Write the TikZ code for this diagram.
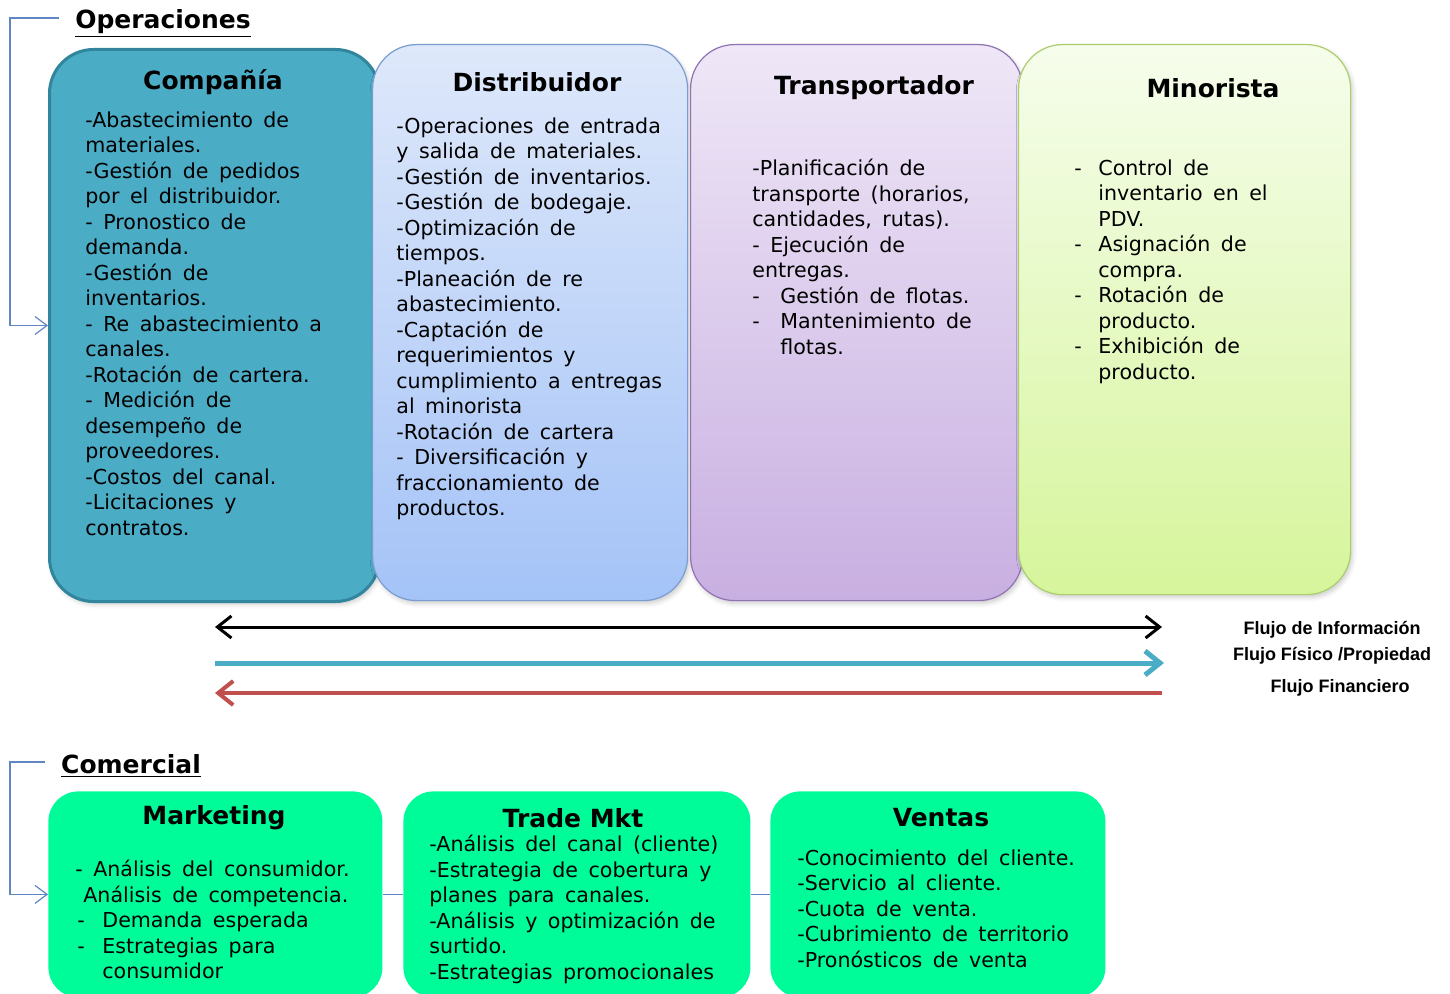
\documentclass[tikz,border=0pt]{standalone}
\usepackage{fontspec}
\setmainfont{DejaVu Sans}
\newfontfamily\bodyfont[WordSpace=1.6]{DejaVu Sans}
\newfontfamily\tahoma{Liberation Sans}
\usepackage{tikz}
\usetikzlibrary{
  positioning,
  arrows.meta,
  shadows.blur,
  calc
}

\definecolor{compfill}{RGB}{75,172,198}
\definecolor{compline}{RGB}{49,133,156}
\definecolor{disttop}{RGB}{222,232,250}
\definecolor{distbot}{RGB}{164,195,247}
\definecolor{distline}{RGB}{122,156,208}
\definecolor{transtop}{RGB}{239,231,247}
\definecolor{transbot}{RGB}{200,175,225}
\definecolor{transline}{RGB}{143,115,178}
\definecolor{minotop}{RGB}{246,253,236}
\definecolor{minobot}{RGB}{214,245,155}
\definecolor{minoline}{RGB}{169,206,107}
\definecolor{comfill}{RGB}{0,252,152}
\definecolor{linkblue}{RGB}{96,134,196}
\definecolor{flowblue}{RGB}{75,172,198}
\definecolor{flowred}{RGB}{192,80,77}

\newcommand{\guion}[1]{\makebox[#1][l]{-}}

\begin{document}
\begin{tikzpicture}[
  x=0.5pt, y=-0.5pt,
  opbox/.style={
    rounded corners=22pt,
    inner sep=0pt,
    minimum height=278pt,
    blur shadow={shadow xshift=1pt, shadow yshift=-1.5pt, shadow opacity=20, shadow blur steps=4}
  },
  combox/.style={
    fill=comfill,
    rounded corners=15pt,
    inner sep=0pt,
    minimum height=103pt,
    anchor=north west
  },
  head/.style={font=\bfseries\fontsize{12.5}{15}\selectfont, inner sep=0pt},
  body/.style={font=\bodyfont\fontsize{10.3}{12.75}\selectfont, align=left, inner sep=0pt, anchor=north west},
  section/.style={font=\bfseries\fontsize{12.5}{14}\selectfont, inner sep=0pt},
  flowlabel/.style={font=\tahoma\bfseries\fontsize{9}{10}\selectfont, inner sep=0pt},
  bracket/.style={draw=linkblue, line width=0.6pt, -{Straight Barb[length=6pt, width=9pt]}},
  link/.style={draw=linkblue, line width=0.5pt}
]

\useasboundingbox (0,0) rectangle (1450,994);

% ==================== OPERACIONES ====================
\node[section] (ops) at (163,24) {\underline{Operaciones}};

\node[opbox, fill=compfill, draw=compline, line width=1.5pt, minimum width=165pt, minimum height=276pt, anchor=north west] (comp) at (48,48) {};
\node[opbox, top color=disttop, bottom color=distbot, draw=distline, line width=0.6pt, minimum width=157.5pt, anchor=north west] (dist) at (372,44) {};
\node[opbox, top color=transtop, bottom color=transbot, draw=transline, line width=0.6pt, minimum width=166pt, anchor=north west] (trans) at (690,44) {};
\node[opbox, top color=minotop, bottom color=minobot, draw=minoline, line width=0.6pt, minimum width=166pt, minimum height=275pt, anchor=north west] (mino) at (1018,44) {};

% titles
\node[head] (comptitle) at (213,82) {Compañía};
\node[head] (disttitle) at (537,82) {Distribuidor};
\node[head] (transtitle) at (874,88) {Transportador};
\node[head] (minotitle) at (1213,88) {Minorista};

% texts
\node[body] (comptext) at (85,111) {
  -Abastecimiento de\\
  materiales.\\
  -Gestión de pedidos\\
  por el distribuidor.\\
  - Pronostico de\\
  demanda.\\
  -Gestión de\\
  inventarios.\\
  - Re abastecimiento a\\
  canales.\\
  -Rotación de cartera.\\
  - Medición de\\
  desempeño de\\
  proveedores.\\
  -Costos del canal.\\
  -Licitaciones y\\
  contratos.
};

\node[body] (disttext) at (396,117) {
  -Operaciones de entrada\\
  y salida de materiales.\\
  -Gestión de inventarios.\\
  -Gestión de bodegaje.\\
  -Optimización de\\
  tiempos.\\
  -Planeación de re\\
  abastecimiento.\\
  -Captación de\\
  requerimientos y\\
  cumplimiento a entregas\\
  al minorista\\
  -Rotación de cartera\\
  - Diversificación y\\
  fraccionamiento de\\
  productos.
};

\node[body] (transtext) at (752,159) {
  -Planificación de\\
  transporte (horarios,\\
  cantidades, rutas).\\
  - Ejecución de\\
  entregas.\\
  \guion{14pt}Gestión de flotas.\\
  \guion{14pt}Mantenimiento de\\
  \hspace*{14pt}flotas.
};

\node[body] (minotext) at (1074,159) {
  \guion{12pt}Control de\\
  \hspace*{12pt}inventario en el\\
  \hspace*{12pt}PDV.\\
  \guion{12pt}Asignación de\\
  \hspace*{12pt}compra.\\
  \guion{12pt}Rotación de\\
  \hspace*{12pt}producto.\\
  \guion{12pt}Exhibición de\\
  \hspace*{12pt}producto.
};

\draw[bracket] ([xshift=-8pt, yshift=3pt]ops.west) -| ([xshift=-19pt]comp.west) -- (comp.west);

% ==================== FLUJOS ====================
\coordinate (infoL) at (215,627);
\coordinate (infoR) at (1162,627);
\coordinate (fisL) at (215,663);
\coordinate (fisR) at (1164,663);
\coordinate (finL) at (215,693);
\coordinate (finR) at (1162,693);

\draw[line width=1.5pt, {Straight Barb[length=7pt, width=11pt]}-{Straight Barb[length=7pt, width=11pt]}] (infoL) -- (infoR);
\draw[flowblue, line width=2.5pt, -{Straight Barb[length=7.5pt, width=12pt]}] (fisL) -- (fisR);
\draw[flowred, line width=2pt, {Straight Barb[length=7.5pt, width=12pt]}-] (finL) -- (finR);

\node[flowlabel] (info) at (1332,630) {Flujo de Información};
\node[flowlabel] (fis) at (1332,656) {Flujo Físico /Propiedad};
\node[flowlabel] (fin) at (1340,688) {Flujo Financiero};

% ==================== COMERCIAL ====================
\node[section] (com) at (131,766) {\underline{Comercial}};

\node[combox, minimum width=167pt] (mkt) at (48,791) {};
\node[combox, minimum width=173.5pt] (trade) at (403,791) {};
\node[combox, minimum width=167.5pt] (ventas) at (770,791) {};

\draw[link] (mkt.east) -- (trade.west);
\draw[link] (trade.east) -- (ventas.west);

\node[head] (mkttitle) at (214,818) {Marketing};
\node[head] (tradetitle) at (573,818) {Trade Mkt};
\node[head] (ventastitle) at (941,818) {Ventas};

\node[body] (mkttext) at (75,860) {
  - Análisis del consumidor.\\
  \hspace*{4pt}Análisis de competencia.\\
  \hspace*{1pt}\guion{12.5pt}Demanda esperada\\
  \hspace*{1pt}\guion{12.5pt}Estrategias para\\
  \hspace*{13.5pt}consumidor
};

\node[body] (tradetext) at (429,835) {
  -Análisis del canal (cliente)\\
  -Estrategia de cobertura y\\
  planes para canales.\\
  -Análisis y optimización de\\
  surtido.\\
  -Estrategias promocionales
};

\node[body] (ventastext) at (797,849) {
  -Conocimiento del cliente.\\
  -Servicio al cliente.\\
  -Cuota de venta.\\
  -Cubrimiento de territorio\\
  -Pronósticos de venta
};

\draw[bracket] ([xshift=-8pt, yshift=2pt]com.west) -| ([xshift=-19pt]mkt.west) -- (mkt.west);

\end{tikzpicture}
\end{document}
